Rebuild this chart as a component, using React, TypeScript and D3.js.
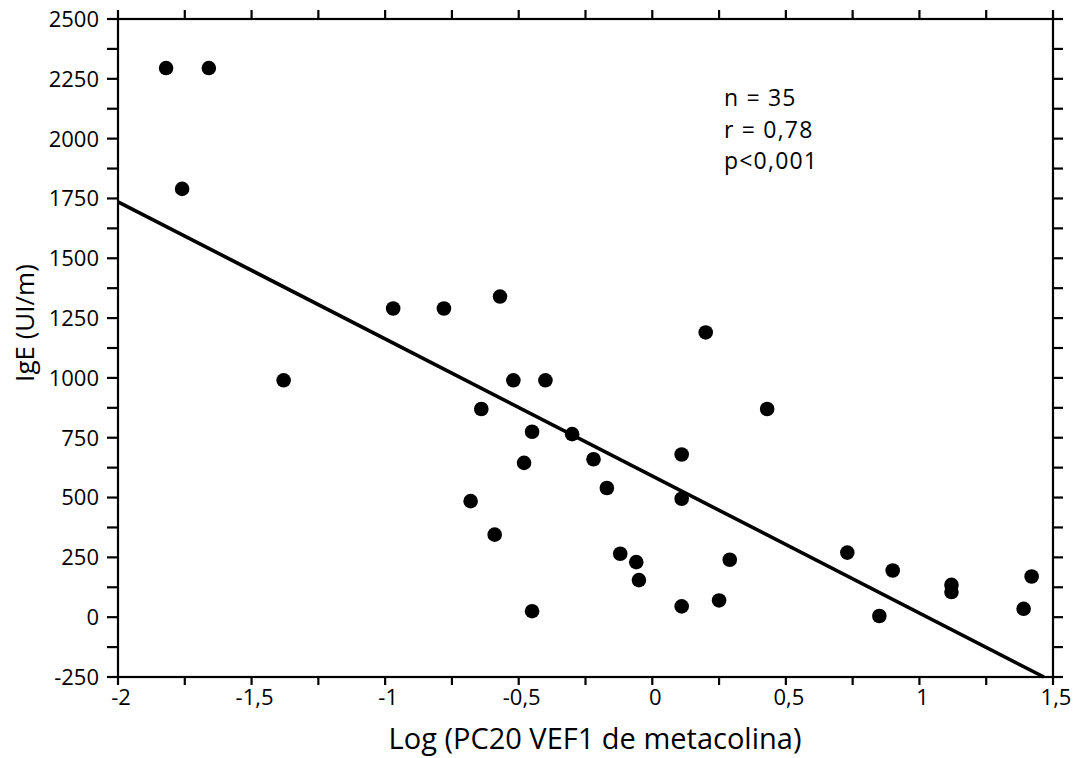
import React from "react";
import * as d3 from "d3";

const W = 1079, H = 758;

// log(PC20 FEV1 metacholine) vs IgE (UI/m)
const logPC20 = [
  -1.82, -1.66, -1.76, -0.97, -1.38, -0.78, -0.57, 0.20, -0.52, -0.40,
  -0.64, 0.43, -0.45, -0.30, -0.48, -0.22, 0.11, -0.17, 0.11, -0.68,
  -0.59, -0.12, -0.06, -0.05, 0.29, -0.45, 0.11, 0.25, 0.73, 0.90,
  0.85, 1.12, 1.12, 1.42, 1.39,
];
const ige = [
  2295, 2295, 1790, 1290, 990, 1290, 1340, 1190, 990, 990,
  870, 870, 775, 765, 645, 660, 680, 540, 495, 485,
  345, 265, 230, 155, 240, 25, 45, 70, 270, 195,
  5, 135, 105, 170, 35,
];

// fitted line
const fitIntercept = 590;
const fitSlope = -573;

const xTicks = [-2, -1.5, -1, -0.5, 0, 0.5, 1, 1.5];
const yTicks = [-250, 0, 250, 500, 750, 1000, 1250, 1500, 1750, 2000, 2250, 2500];
const stats = ["n = 35", "r = 0,78", "p<0,001"];

const fmt = (v: number) => String(v).replace(".", ",");

export default function App() {
  const x = d3.scaleLinear().domain([-2, 1.5]).range([118, 1053]);
  const y = d3.scaleLinear().domain([-250, 2500]).range([677, 19]);
  const [x0, x1] = x.range();
  const [yb, yt] = y.range();

  const minorX = d3.range(-2, 1.5001, 0.25);
  const minorY = d3.range(-250, 2500.01, 125);

  const xEnd = (-250 - fitIntercept) / fitSlope;
  const fit = d3.line<number>().x(d => x(d)).y(d => y(fitIntercept + fitSlope * d));

  const font = "'Open Sans', 'DejaVu Sans', sans-serif";

  return (
    <svg width={W} height={H} style={{ position: "absolute", left: 0, top: 0, background: "#fff" }}
      fontFamily={font}>
      {/* frame */}
      <g stroke="#000" strokeWidth={2.2} fill="none">
        <rect x={x0} y={yt} width={x1 - x0} height={yb - yt} />
        {minorX.map((d, i) => (
          <g key={"x" + i}>
            <line x1={x(d)} x2={x(d)} y1={yb} y2={yb + 8} />
            <line x1={x(d)} x2={x(d)} y1={yt} y2={yt - 9} />
          </g>
        ))}
        {minorY.map((d, i) => (
          <g key={"y" + i}>
            <line x1={x0} x2={x0 - 11} y1={y(d)} y2={y(d)} />
            <line x1={x1} x2={x1 + 10} y1={y(d)} y2={y(d)} />
          </g>
        ))}
      </g>

      {/* tick labels */}
      <g fontSize={22} fill="#000">
        {yTicks.map(d => (
          <text key={d} x={x0 - 19} y={y(d)} dy="0.36em" textAnchor="end">{fmt(d)}</text>
        ))}
        {xTicks.map(d => (
          <text key={d} x={x(d) + 3} y={705} textAnchor="middle">{fmt(d)}</text>
        ))}
      </g>

      {/* axis titles */}
      <text x={595} y={749} textAnchor="middle" fontSize={29} fill="#000">
        Log (PC20 VEF1 de metacolina)
      </text>
      <text transform="translate(34,323) rotate(-90)" textAnchor="middle" fontSize={26} fill="#000">
        IgE (UI/m)
      </text>

      {/* regression line */}
      <path d={fit([-2, xEnd]) ?? ""} stroke="#000" strokeWidth={3.6} fill="none" />

      {/* points */}
      <g fill="#000">
        {logPC20.map((d, i) => (
          <circle key={i} cx={x(d)} cy={y(ige[i])} r={7.3} />
        ))}
      </g>

      {/* stats */}
      <g fontSize={23} fill="#000" letterSpacing={1.2}>
        {stats.map((s, i) => (
          <text key={s} x={724} y={106 + i * 31.5}>{s}</text>
        ))}
      </g>
    </svg>
  );
}
